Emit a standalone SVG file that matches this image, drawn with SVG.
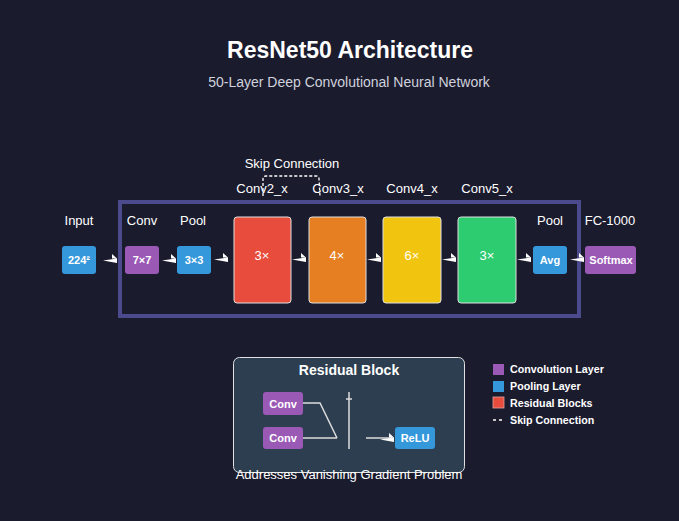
<svg xmlns="http://www.w3.org/2000/svg" width="679" height="521" viewBox="0 0 679 521">
<defs>
<style>
text{font-family:"Liberation Sans",Arial,sans-serif;fill:#fff;text-anchor:middle}
.lbl{font-size:13px}
.box{font-size:11px;font-weight:bold}
.blk{font-size:13px}
.leg{font-size:10.7px;font-weight:bold;text-anchor:start}
.purple{fill:#9b59b6}
.blue{fill:#3498db}
.res{stroke:#e0e0e0;stroke-width:1}
.ln{stroke:#ddd;stroke-width:1.5;fill:none}
</style>
<path id="arr" d="M-8,1.5 L6,-0.5 L6,4 Z M1,-5 L6,-0.5 L1,-0.5 Z" fill="#fff"/>
</defs>
<rect width="679" height="521" fill="#1b1b2e"/>
<text x="350" y="58" style="font-size:23px;font-weight:bold">ResNet50 Architecture</text>
<text x="349" y="87" style="font-size:14px;fill:#cfd2dc">50-Layer Deep Convolutional Neural Network</text>

<g id="frame"><rect x="120" y="202" width="459" height="114" fill="none" stroke="#4a4a8c" stroke-width="4"/></g>

<g id="skip">
<text x="292" y="168" class="lbl">Skip Connection</text>
<path d="M263,196 L263,179 Q263,176 266,176 L316,176 Q319,176 319,179 L320,196" fill="none" stroke="#fff" stroke-width="1.3" stroke-dasharray="3,2"/>
</g>

<g id="input"><text x="79" y="225" class="lbl">Input</text><rect x="62" y="246" width="34" height="28" rx="3" class="blue"/><text x="79" y="264" class="box">224²</text></g>
<g id="conv1"><text x="142" y="225" class="lbl">Conv</text><rect x="125" y="246" width="34" height="28" rx="3" class="purple"/><text x="142" y="264" class="box">7×7</text></g>
<g id="pool1"><text x="193" y="225" class="lbl">Pool</text><rect x="177" y="246" width="34" height="28" rx="3" class="blue"/><text x="194" y="264" class="box">3×3</text></g>
<g id="conv2"><text x="262" y="193" class="lbl">Conv2_x</text><rect x="234" y="217" width="57" height="86" rx="3" fill="#e74c3c" class="res"/><text x="262" y="260" class="blk">3×</text></g>
<g id="conv3"><text x="338" y="193" class="lbl">Conv3_x</text><rect x="309" y="217" width="57" height="86" rx="3" fill="#e67e22" class="res"/><text x="337" y="260" class="blk">4×</text></g>
<g id="conv4"><text x="412" y="193" class="lbl">Conv4_x</text><rect x="383" y="217" width="58" height="86" rx="3" fill="#f1c40f" class="res"/><text x="412" y="260" class="blk">6×</text></g>
<g id="conv5"><text x="487" y="193" class="lbl">Conv5_x</text><rect x="458" y="217" width="58" height="86" rx="3" fill="#2ecc71" class="res"/><text x="487" y="260" class="blk">3×</text></g>
<g id="avgpool"><text x="550" y="225" class="lbl">Pool</text><rect x="533" y="246" width="34" height="28" rx="3" class="blue"/><text x="550" y="264" class="box">Avg</text></g>
<g id="fc"><text x="610" y="225" class="lbl">FC-1000</text><rect x="585" y="246" width="51" height="28" rx="3" class="purple"/><text x="611" y="264" class="box">Softmax</text></g>

<g id="connectors">
<use href="#arr" x="111" y="259"/>
<use href="#arr" x="170" y="259"/>
<use href="#arr" x="222" y="258"/>
<use href="#arr" x="300" y="258"/>
<use href="#arr" x="375" y="258"/>
<use href="#arr" x="450" y="258"/>
<use href="#arr" x="525" y="258"/>
<use href="#arr" x="578" y="258"/>
</g>

<g id="residual">
<rect x="233.5" y="357.5" width="231" height="115" rx="6" fill="#2c3e50" stroke="#e0e0e0" stroke-width="1"/>
<text x="349" y="375" style="font-size:14px;font-weight:bold">Residual Block</text>
<rect x="263" y="392" width="40" height="23" rx="3" class="purple"/><text x="283" y="408" class="box">Conv</text>
<rect x="263" y="427" width="40" height="22" rx="3" class="purple"/><text x="283" y="442" class="box">Conv</text>
<path d="M303,403 L320,403 L337,438 M303,438 L337,438" class="ln"/>
<path d="M349,392 L349,449 M346,399 L352,399" class="ln"/>
<path d="M366,438 L392,438" class="ln"/>
<use href="#arr" x="388" y="438"/>
<rect x="395" y="427" width="40" height="22" rx="3" class="blue"/><text x="415" y="442" style="font-size:11px;font-weight:bold">ReLU</text>
<text x="349" y="479" class="lbl">Addresses Vanishing Gradient Problem</text>
</g>

<g id="legend">
<rect x="493" y="364" width="11" height="11" class="purple"/><text x="510" y="373" class="leg">Convolution Layer</text>
<rect x="493" y="381" width="11" height="11" class="blue"/><text x="510" y="390" class="leg">Pooling Layer</text>
<rect x="493" y="397" width="11" height="11" fill="#e74c3c" stroke="#e0a0a0" stroke-width="0.8"/><text x="510" y="407" class="leg">Residual Blocks</text>
<path d="M493,420 L503,420" stroke="#fff" stroke-width="1.5" stroke-dasharray="3,3"/><text x="510" y="424" class="leg">Skip Connection</text>
</g>
</svg>
